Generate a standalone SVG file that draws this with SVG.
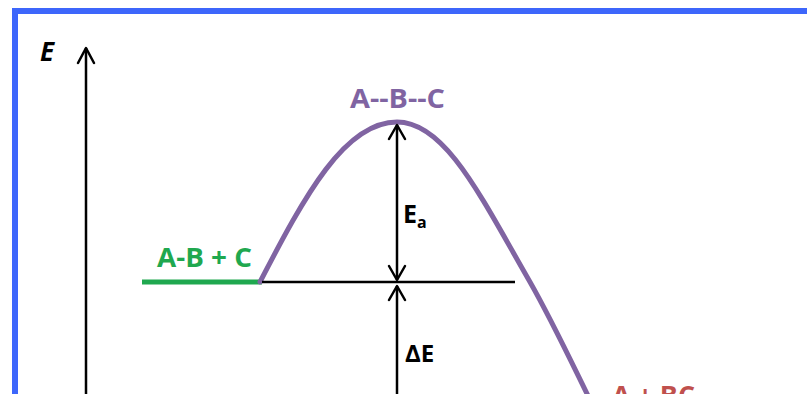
<svg xmlns="http://www.w3.org/2000/svg" width="807" height="394" viewBox="0 0 807 394">
<style>
.lbl{font-family:"Open Sans","Liberation Sans",sans-serif;font-weight:700}
.ax{stroke:#000;stroke-width:2.5;fill:none}
.head{stroke:#000;stroke-width:2.5;fill:none;stroke-linecap:round;stroke-linejoin:round}
</style>
<rect x="0" y="0" width="807" height="394" fill="#fff"/>
<rect x="15" y="11" width="900" height="500" fill="none" stroke="#3d66fb" stroke-width="6"/>
<g id="axis">
<line class="ax" x1="86" y1="48" x2="86" y2="400"/>
<polyline class="head" points="78,63 86,48 94,63"/>
<text class="lbl" x="40" y="61" font-size="26" font-style="italic" fill="#000">E</text>
</g>
<g id="reactants">
<line x1="142" y1="282" x2="262" y2="282" stroke="#1fa84f" stroke-width="5"/>
<text class="lbl" x="157" y="267" font-size="26" fill="#1fa84f" textLength="95" lengthAdjust="spacingAndGlyphs">A-B + C</text>
</g>
<g id="transition">
<text class="lbl" x="350" y="108" font-size="26" fill="#8064a2" textLength="95" lengthAdjust="spacingAndGlyphs">A--B--C</text>
</g>
<g id="products">
<text class="lbl" x="612" y="405" font-size="26" fill="#c0504d" textLength="83" lengthAdjust="spacingAndGlyphs">A + BC</text>
</g>
<g id="curve">
<path d="M260,282 C305,195 345,122 397,122 C445,122 480,195 530,282 C555,326 575,370 598,416" fill="none" stroke="#8064a2" stroke-width="5" stroke-linecap="round"/>
</g>
<g id="connectors">
<line class="ax" x1="262" y1="282" x2="515" y2="282" stroke-width="2"/>
<line class="ax" x1="397" y1="125" x2="397" y2="280"/>
<polyline class="head" points="389,139 397,125 405,139"/>
<polyline class="head" points="389,266 397,280 405,266"/>
<line class="ax" x1="397" y1="286" x2="397" y2="400"/>
<polyline class="head" points="389,300 397,286 405,300"/>
</g>
<g id="labels">
<text class="lbl" x="403" y="223" font-size="25" fill="#000">E<tspan font-size="16" dy="5">a</tspan></text>
<text class="lbl" x="405" y="362" font-size="24" fill="#000">ΔE</text>
</g>
</svg>
